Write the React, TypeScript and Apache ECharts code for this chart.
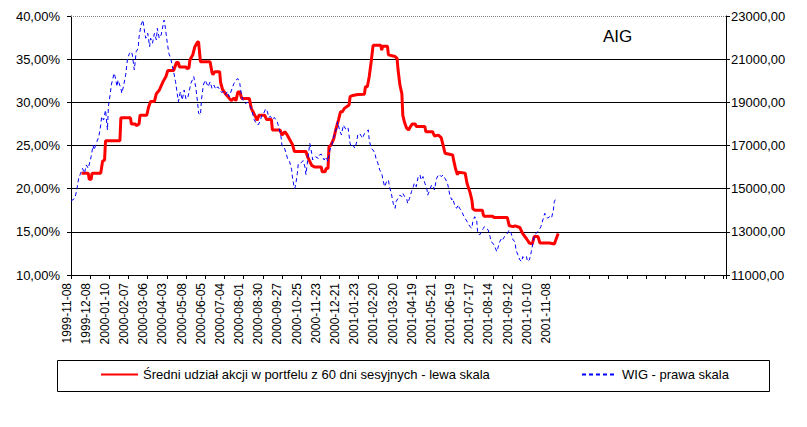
import React, { useEffect, useRef } from "react";
import * as echarts from "echarts";

const tickLabels = [
  "1999-11-08", "1999-12-08", "2000-01-10", "2000-02-07", "2000-03-06", "2000-04-03",
  "2000-05-08", "2000-06-05", "2000-07-04", "2000-08-01", "2000-08-30", "2000-09-27",
  "2000-10-25", "2000-11-23", "2000-12-21", "2001-01-23", "2001-02-20", "2001-03-20",
  "2001-04-19", "2001-05-21", "2001-06-19", "2001-07-17", "2001-08-14", "2001-09-12",
  "2001-10-10", "2001-11-08",
];

const redName = "Średni udział akcji w portfelu z 60 dni sesyjnych - lewa skala";
const blueName = "WIG - prawa skala";

// trading-day index of each vertex of the red (left scale, %) series
const redIdx = [
  11, 18, 19, 21, 22, 31, 32, 33, 35, 36, 51, 52, 62, 63, 67, 68, 71, 72, 79, 81,
  83, 87, 89, 92, 96, 99, 101, 107, 110, 112, 113, 120, 121, 123, 124, 127, 129, 132, 133, 135,
  145, 147, 148, 150, 155, 156, 158, 161, 164, 167, 170, 172, 174, 176, 178, 186, 188, 193, 194, 196,
  202, 204, 209, 210, 218, 220, 223, 225, 228, 231, 233, 245, 247, 248, 251, 254, 261, 262, 265, 266,
  268, 269, 271, 274, 276, 279, 281, 283, 285, 290, 291, 294, 299, 306, 307, 309, 311, 313, 315, 323,
  324, 325, 330, 331, 338, 340, 341, 343, 345, 346, 348, 350, 352, 354, 356, 359, 360, 369, 370, 377,
  379, 383, 386, 388, 390, 398, 399, 401, 403, 404, 411, 413, 416, 418, 419, 421, 429, 430, 431, 440,
  441, 455, 457, 461, 463, 468, 471, 475, 478, 481, 483, 487, 489, 499, 504, 506, 508,
];
const redVal = [
  21.8, 21.8, 21.1, 21.1, 21.8, 21.8, 22.5, 23.2, 23.3, 25.55, 25.55, 28.2, 28.2, 27.5, 27.5, 27.3, 27.5, 28.5, 28.5, 29.5,
  30.1, 30.1, 31.0, 31.4, 32.4, 33.0, 33.7, 33.7, 34.6, 34.6, 34.1, 34.1, 33.9, 34.0, 34.9, 35.5, 36.4, 37.0, 37.0, 34.7,
  34.7, 33.5, 33.2, 33.55, 33.55, 32.3, 31.5, 31.0, 30.6, 30.2, 30.5, 30.2, 31.2, 31.2, 30.45, 30.45, 29.3, 28.2, 27.9, 28.5,
  28.5, 28.0, 28.0, 26.8, 26.8, 26.2, 26.6, 26.3, 25.7, 25.1, 24.3, 24.3, 23.6, 23.4, 22.7, 22.5, 22.5, 21.95, 21.95, 22.35,
  22.35, 24.85, 25.05, 25.8, 26.8, 28.0, 28.9, 28.9, 29.3, 29.7, 30.65, 30.8, 30.9, 30.95, 31.8, 31.8, 33.0, 34.7, 36.6, 36.6,
  36.05, 36.5, 36.5, 35.5, 35.3, 35.1, 33.8, 32.0, 31.0, 28.5, 27.6, 27.0, 26.8, 27.2, 27.5, 27.5, 27.2, 27.2, 26.6, 26.6,
  26.1, 26.2, 25.9, 25.05, 24.1, 23.9, 23.3, 22.3, 21.6, 21.9, 21.8, 20.6, 19.6, 18.7, 17.7, 17.5, 17.5, 16.95, 16.8, 16.8,
  16.65, 16.65, 15.7, 15.6, 15.7, 15.5, 14.8, 14.2, 13.7, 13.6, 14.45, 14.45, 13.7, 13.7, 13.6, 14.2, 14.8,
];

// trading-day index of each WIG (right scale) reading
const wigIdx = [
  0, 4, 6, 8, 10, 12, 14, 16, 18, 21, 23, 24, 27, 29, 31, 32, 34, 36, 38, 39,
  41, 42, 45, 46, 48, 49, 52, 53, 55, 57, 59, 61, 63, 64, 66, 68, 70, 71, 73, 75,
  77, 78, 80, 82, 83, 85, 87, 89, 90, 92, 94, 97, 98, 100, 102, 104, 105, 107, 109, 111,
  112, 114, 116, 118, 120, 122, 125, 128, 130, 132, 133, 135, 136, 138, 140, 143, 145, 147, 149, 151,
  153, 155, 157, 159, 161, 163, 165, 168, 170, 172, 174, 176, 178, 180, 182, 184, 186, 188, 191, 193,
  195, 197, 199, 201, 203, 205, 206, 208, 210, 212, 215, 217, 219, 220, 222, 224, 226, 228, 230, 231,
  233, 234, 236, 237, 240, 242, 244, 245, 247, 249, 251, 252, 255, 258, 259, 261, 264, 266, 268, 270,
  272, 273, 275, 277, 278, 280, 282, 284, 285, 287, 289, 291, 292, 294, 296, 298, 299, 301, 303, 304,
  306, 308, 310, 311, 313, 315, 317, 318, 320, 322, 324, 325, 327, 329, 331, 332, 334, 336, 338, 339,
  341, 343, 345, 346, 348, 350, 351, 353, 355, 357, 358, 360, 362, 364, 365, 367, 369, 371, 372, 374,
  376, 378, 379, 381, 383, 384, 386, 388, 390, 391, 393, 395, 397, 398, 400, 402, 404, 405, 407, 409,
  411, 412, 414, 416, 418, 419, 421, 423, 424, 426, 428, 430, 431, 433, 435, 437, 438, 440, 442, 444,
  445, 447, 449, 450, 452, 454, 456, 457, 459, 461, 463, 464, 466, 468, 470, 471, 473, 475, 476, 478,
  480, 482, 483, 485, 487, 489, 490, 492, 494, 496, 497, 499, 501, 503, 504, 506,
];
const wigVal = [
  14430, 14550, 14940, 15480, 15710, 15940, 15710, 16100, 15940, 16480, 17020, 16790, 17180, 17410, 17950, 18340, 18180, 18640, 17720, 18800,
  19420, 19800, 20350, 20190, 19730, 20030, 19650, 19420, 19800, 20270, 21040, 21270, 21350, 21190, 20500, 21350, 21500, 22040, 22580, 22810,
  22200, 21970, 22200, 21580, 21970, 21740, 22200, 21890, 22430, 21970, 22120, 22810, 22580, 21890, 21270, 21040, 20810, 20420, 19960, 19340,
  19030, 19490, 19110, 19570, 19140, 19260, 19880, 20190, 19720, 19000, 18500, 18410, 19110, 19800, 20030, 19720, 19950, 19650, 19800, 19600,
  19720, 19600, 19460, 19500, 19340, 19500, 19260, 19650, 19880, 20030, 20100, 19880, 19260, 19030, 18950, 19000, 18880, 18720, 18200, 18040,
  17950, 18100, 18400, 18500, 18700, 18550, 18300, 18350, 18200, 18300, 18100, 17800, 17400, 17000, 16950, 16700, 16350, 16250, 15900, 15500,
  15000, 15100, 15700, 16150, 16200, 16300, 16000, 15650, 16400, 17100, 16640, 16330, 16480, 16400, 16560, 16600, 16330, 16480, 16250, 16790,
  17020, 17250, 17560, 17800, 18100, 17720, 17490, 17950, 17870, 17720, 17800, 17100, 16950, 17020, 16870, 17180, 17490, 17560, 17410, 17330,
  17560, 17640, 17720, 17250, 16870, 16790, 16640, 16400, 16180, 15860, 15710, 15480, 15090, 15320, 15400, 15100, 14780, 14320, 14090, 14400,
  14550, 14700, 14630, 14780, 14630, 14550, 14320, 14550, 14860, 15090, 15250, 15090, 15560, 15630, 15400, 15560, 15250, 15020, 14700, 14940,
  15170, 15090, 14940, 15450, 15630, 15660, 15560, 15630, 15480, 15400, 15170, 14700, 14480, 14550, 14250, 14090, 14250, 14090, 14010, 13780,
  13630, 13550, 13400, 13240, 13170, 13480, 13700, 13550, 13010, 12850, 13010, 13160, 13240, 13160, 13090, 12780, 12540, 12470, 12310, 12080,
  12230, 12540, 12700, 12630, 12780, 12850, 13010, 13090, 12930, 12620, 12540, 12160, 11930, 11700, 11620, 11850, 11780, 11850, 11620, 11700,
  12080, 12540, 12850, 12930, 13010, 13160, 13240, 13550, 13860, 13700, 13630, 13700, 13630, 14010, 14400, 14600,
];

const FONT = 'Arial, "Liberation Sans", sans-serif';

export default function App() {
  const ref = useRef<HTMLDivElement>(null);

  useEffect(() => {
    if (!ref.current) return;
    const chart = echarts.init(ref.current, undefined, { renderer: "svg" });
    const redData = redIdx.map((d, i) => [d, redVal[i]]);
    const wigData = wigIdx.map((d, i) => [d, wigVal[i]]);
    const lblStyle = { color: "#000", fontSize: 13, fontFamily: FONT };
    const hiddenSymbol = {
      color: "rgba(0,0,0,0)",
      borderColor: "rgba(0,0,0,0)",
      borderWidth: 0,
      opacity: 0,
    };

    chart.setOption({
      animation: false,
      backgroundColor: "#fff",
      title: {
        text: "AIG",
        left: 603,
        top: 28,
        padding: 0,
        textStyle: { fontSize: 17, fontWeight: "normal", color: "#000", fontFamily: FONT },
      },
      grid: { left: 71, right: 81, top: 16, bottom: 152, containLabel: false },
      legend: [
        {
          data: [redName],
          left: 100,
          top: 368,
          padding: 0,
          itemWidth: 37,
          itemHeight: 14,
          textStyle: lblStyle,
          itemStyle: hiddenSymbol,
          selectedMode: false,
        },
        {
          data: [blueName],
          left: 581,
          top: 368,
          padding: 0,
          itemWidth: 35,
          itemHeight: 14,
          textStyle: lblStyle,
          itemStyle: hiddenSymbol,
          selectedMode: false,
        },
      ],
      xAxis: {
        type: "value",
        min: 0,
        max: 683,
        interval: 20,
        axisLine: { show: true, lineStyle: { color: "#000", width: 1 } },
        axisTick: { show: true, length: 4, lineStyle: { color: "#000" } },
        splitLine: { show: false },
        axisLabel: {
          rotate: 90,
          margin: 8,
          color: "#000",
          fontSize: 12,
          fontFamily: FONT,
          verticalAlign: "bottom",
          lineHeight: 9,
          showMinLabel: true,
          showMaxLabel: true,
          formatter: (v: number) => (v % 20 === 0 ? tickLabels[v / 20] ?? "" : ""),
        },
      },
      yAxis: [
        {
          type: "value",
          position: "left",
          min: 10,
          max: 40,
          interval: 5,
          axisLine: { show: true, lineStyle: { color: "#000", width: 1 } },
          axisTick: { show: true, length: 4, lineStyle: { color: "#000" } },
          splitLine: { show: true, showMaxLine: false, lineStyle: { color: "#000", width: 1 } },
          axisLabel: {
            ...lblStyle,
            margin: 11,
            formatter: (v: number) => v.toFixed(2).replace(".", ",") + "%",
          },
        },
        {
          type: "value",
          position: "right",
          min: 11000,
          max: 23000,
          interval: 2000,
          axisLine: { show: true, lineStyle: { color: "#000", width: 1 } },
          axisTick: { show: true, length: 4, lineStyle: { color: "#000" } },
          splitLine: { show: false },
          axisLabel: {
            ...lblStyle,
            margin: 5,
            formatter: (v: number) => v.toFixed(2).replace(".", ","),
          },
        },
      ],
      series: [
        {
          name: redName,
          type: "line",
          yAxisIndex: 0,
          data: redData,
          symbol: "none",
          showSymbol: false,
          lineStyle: { color: "#ff0000", width: 3 },
          itemStyle: { color: "#ff0000" },
          z: 2,
          markLine: {
            silent: true,
            symbol: "none",
            label: { show: false },
            lineStyle: { color: "#808080", type: "dotted", width: 1 },
            data: [{ yAxis: 40 }],
          },
        },
        {
          name: blueName,
          type: "line",
          yAxisIndex: 1,
          data: wigData,
          symbol: "none",
          showSymbol: false,
          lineStyle: { color: "#0000ff", width: 1, type: [4, 3] },
          itemStyle: { color: "#0000ff" },
          z: 3,
        },
      ],
      graphic: [
        {
          type: "rect",
          shape: { x: 57.5, y: 360.5, width: 712, height: 31 },
          style: { fill: "none", stroke: "#000", lineWidth: 1 },
          silent: true,
        },
      ],
    });

    return () => chart.dispose();
  }, []);

  return (
    <div
      ref={ref}
      style={{ position: "absolute", left: 0, top: 0, width: 807, height: 427 }}
    />
  );
}
